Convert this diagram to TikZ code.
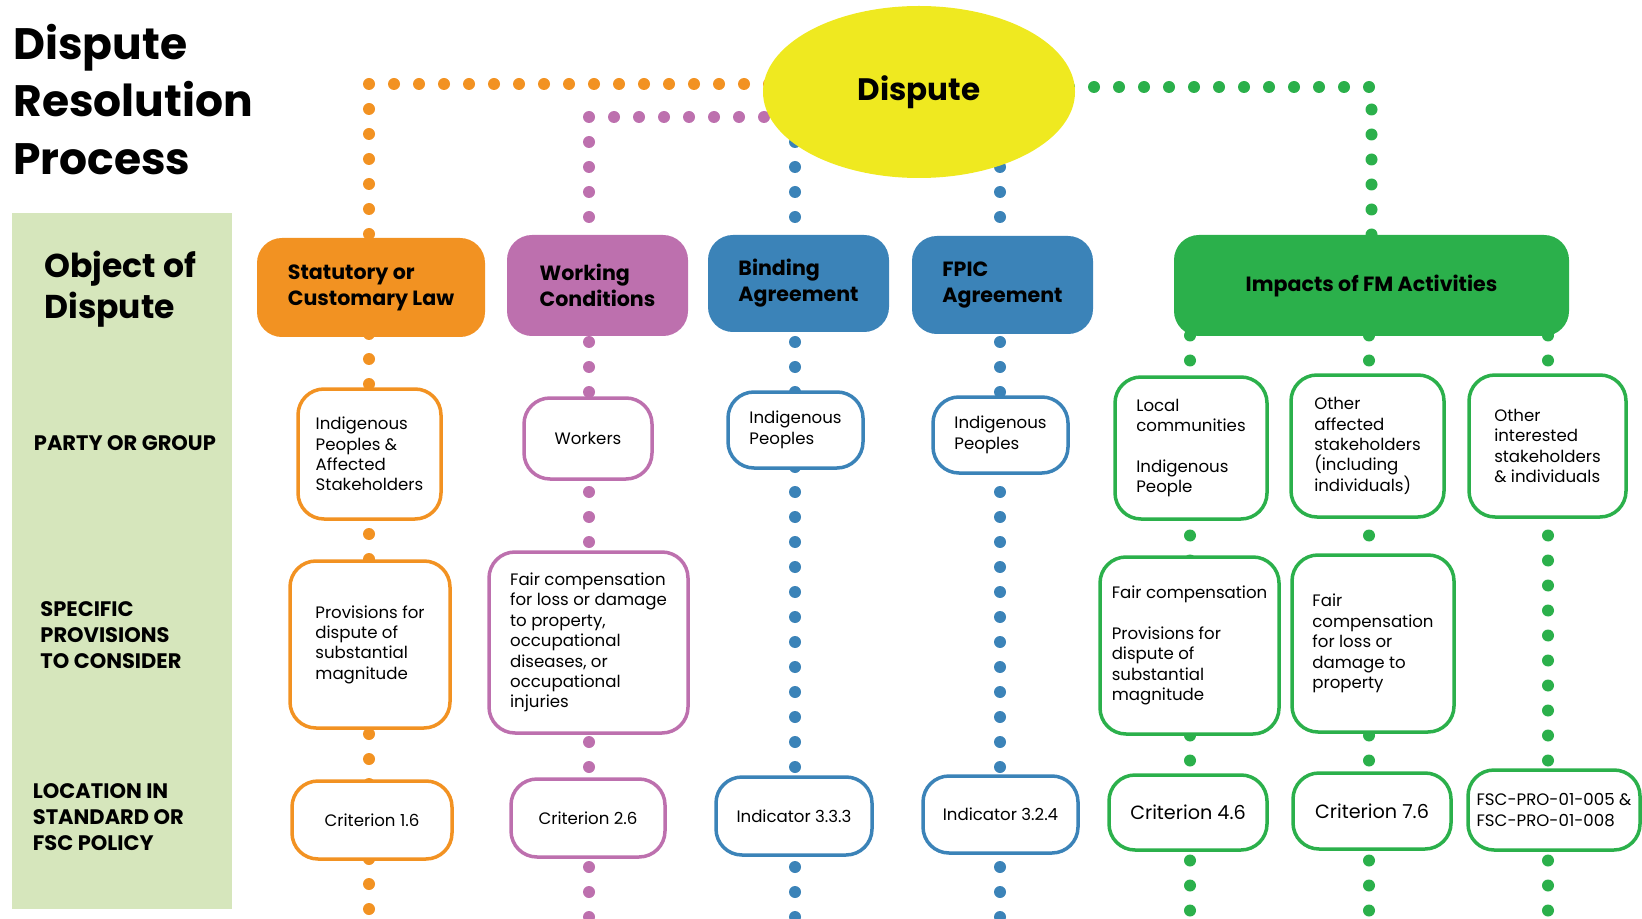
\documentclass[tikz,border=0pt]{standalone}
\usepackage{fontspec}
\setmainfont{Poppins}
\usetikzlibrary{shapes.geometric, backgrounds}
\definecolor{DispYellow}{RGB}{239,233,32}
\definecolor{LawOrange} {RGB}{242,146,34}
\definecolor{WorkPurple}{RGB}{189,112,174}
\definecolor{AgrBlue}   {RGB}{59,131,184}
\definecolor{FMGreen}   {RGB}{43,176,75}
\definecolor{PanelGreen}{RGB}{214,230,188}
\tikzset{
  % filled category box heading each column
  cat/.style={
    rectangle, rounded corners=12pt,
    draw=#1, fill=#1, line width=1pt,
    align=left, font=\fontsize{10.3}{13}\selectfont\bfseries,
    inner sep=4pt
  },
  % white box with coloured outline
  item/.style={
    rectangle, rounded corners=13pt,
    draw=#1, fill=white, line width=1.75pt,
    align=left, font=\fontsize{8.3}{10.2}\selectfont,
    inner sep=4pt
  },
  % row captions on the green panel
  rowlbl/.style={anchor=west, align=left, inner sep=0pt,
    font=\fontsize{10.5}{13}\selectfont\bfseries},
  % dotted connector
  dots/.style={draw=#1, line width=6pt, line cap=round,
    dash pattern=on 0pt off 12.5pt}
}

\begin{document}
\begin{tikzpicture}[x=0.5pt, y=-0.5pt]
  \useasboundingbox (0,0) rectangle (1642,919);

  %% -- Title and side panel ----------------------------------------------
  \node[anchor=west, align=left, inner sep=0pt,
        font=\fontsize{22}{28.75}\selectfont\bfseries] (title) at (13,99.5)
    {Dispute\\Resolution\\Process};

  \fill[PanelGreen] (12,213) rectangle (232,909);
  \node[rowlbl, font=\fontsize{16.5}{20.5}\selectfont\bfseries] (objLbl) at (44,289.5)
    {Object of\\Dispute};
  \node[rowlbl] (partyLbl) at (33.5,443) {PARTY OR GROUP};
  \node[rowlbl] (provLbl)  at (40,635)   {SPECIFIC\\PROVISIONS\\TO CONSIDER};
  \node[rowlbl] (locLbl)   at (32.5,817) {LOCATION IN\\STANDARD OR\\FSC POLICY};

  %% -- Dispute and column headings ---------------------------------------
  \node[ellipse, fill=DispYellow, inner sep=0pt,
        minimum width=156pt, minimum height=86pt,
        font=\fontsize{15.5}{18}\selectfont\bfseries] (dispute) at (919,92) {Dispute};

  \node[cat=LawOrange,  minimum width=113pt,   minimum height=48.5pt] (law)     at (371,287.5)
    {Statutory or\\Customary Law};
  \node[cat=WorkPurple, minimum width=89.5pt,  minimum height=49.5pt] (work)    at (597.5,285.5)
    {Working\\Conditions};
  \node[cat=AgrBlue,    minimum width=89.5pt,  minimum height=47.5pt] (bind)    at (798.5,283.5)
    {Binding\\Agreement};
  \node[cat=AgrBlue,    minimum width=89.5pt,  minimum height=48pt]   (fpic)    at (1002.5,285)
    {FPIC\\Agreement};
  \node[cat=FMGreen,    minimum width=196.5pt, minimum height=49.5pt] (impacts) at (1371.5,285.5)
    {Impacts of FM Activities};

  %% -- Party or group ----------------------------------------------------
  \node[item=LawOrange,  minimum width=71.5pt, minimum height=65pt] (lawParty)   at (369.5,454)
    {Indigenous\\Peoples \&\\Affected\\Stakeholders};
  \node[item=WorkPurple, minimum width=64pt,   minimum height=40.5pt] (workParty) at (588,438.5)
    {Workers};
  \node[item=AgrBlue,    minimum width=67.5pt, minimum height=38pt] (bindParty)  at (795.5,430)
    {Indigenous\\Peoples};
  \node[item=AgrBlue,    minimum width=67.5pt, minimum height=38pt] (fpicParty)  at (1000.5,435)
    {Indigenous\\Peoples};
  \node[item=FMGreen,    minimum width=76pt,   minimum height=71pt] (localParty) at (1191,448)
    {Local\\communities\\[10.2pt]Indigenous\\People};
  \node[item=FMGreen,    minimum width=76.5pt, minimum height=71pt] (affParty)   at (1367.5,446)
    {Other\\affected\\stakeholders\\(including\\individuals)};
  \node[item=FMGreen,    minimum width=78.5pt, minimum height=71pt] (interParty) at (1547.5,446)
    {Other\\interested\\stakeholders\\\& individuals};

  %% -- Specific provisions -----------------------------------------------
  \node[item=LawOrange,  minimum width=80pt,   minimum height=83.5pt] (lawProv)   at (370,644.5)
    {Provisions for\\dispute of\\substantial\\magnitude};
  \node[item=WorkPurple, minimum width=99.5pt, minimum height=90.5pt] (workProv)  at (588.5,642.5)
    {Fair compensation\\for loss or damage\\to property,\\occupational\\diseases, or\\occupational\\injuries};
  \node[item=FMGreen,    minimum width=89.5pt, minimum height=88.5pt] (localProv) at (1189.5,645.5)
    {Fair compensation\\[10.2pt]Provisions for\\dispute of\\substantial\\magnitude};
  \node[item=FMGreen,    minimum width=81pt,   minimum height=88.5pt] (affProv)   at (1373,643.5)
    {Fair\\compensation\\for loss or\\damage to\\property};

  %% -- Location in standard or policy ------------------------------------
  \node[item=LawOrange,  minimum width=80pt, minimum height=39pt]   (lawLoc)   at (372,820)
    {Criterion 1.6};
  \node[item=WorkPurple, minimum width=77pt, minimum height=39pt]   (workLoc)  at (588,818)
    {Criterion 2.6};
  \node[item=AgrBlue,    minimum width=78pt, minimum height=39pt]   (bindLoc)  at (794,816)
    {Indicator 3.3.3};
  \node[item=AgrBlue,    minimum width=77.5pt, minimum height=38.5pt] (fpicLoc) at (1000.5,814.5)
    {Indicator 3.2.4};
  \node[item=FMGreen,    minimum width=79pt, minimum height=37.5pt, font=\fontsize{9.6}{12}\selectfont]
    (localLoc) at (1188,812.5) {Criterion 4.6};
  \node[item=FMGreen,    minimum width=79pt, minimum height=38pt, font=\fontsize{9.6}{12}\selectfont]
    (affLoc)   at (1372,811) {Criterion 7.6};
  \node[item=FMGreen,    minimum width=86pt, minimum height=40pt]   (interLoc) at (1554,810)
    {FSC-PRO-01-005 \&\\FSC-PRO-01-008};

  %% -- Dotted connectors (behind the boxes) ------------------------------
  \coordinate (oEnd)  at (369,915);
  \coordinate (pEnd)  at (589,917);
  \coordinate (b1End) at (795,917);
  \coordinate (b2End) at (1000,917);
  \coordinate (g1End) at (1190,911);
  \coordinate (g2End) at (1369,911);
  \coordinate (g3End) at (1548,911);

  \begin{scope}[on background layer]
    \draw[dots=LawOrange]  ([yshift=4pt]dispute.center) -| (oEnd);
    \draw[dots=WorkPurple] (pEnd) |- ([yshift=-12.5pt]dispute.center);
    \draw[dots=AgrBlue]    (dispute.center -| b1End) -- (b1End);
    \draw[dots=AgrBlue]    (dispute.center -| b2End) -- (b2End);
    \draw[dots=FMGreen]    ([yshift=2.5pt]dispute.center) -| (impacts.north);
    \draw[dots=FMGreen]    (impacts.center -| g1End) -- (g1End);
    \draw[dots=FMGreen]    (impacts.center -| g2End) -- (g2End);
    \draw[dots=FMGreen]    (impacts.center -| g3End) -- (g3End);
  \end{scope}

\end{tikzpicture}
\end{document}
